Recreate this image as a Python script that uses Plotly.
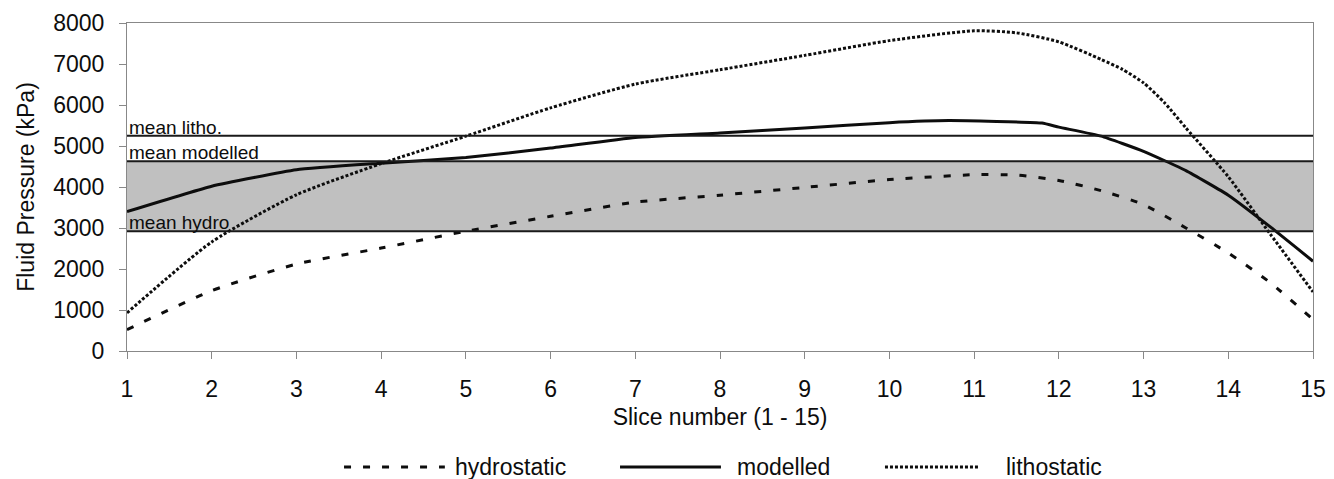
import plotly.graph_objects as go

# ---- data ----
hydro_x = [1, 2, 3, 4, 5, 6, 7, 8, 9, 10, 11, 11.5, 12, 12.5, 13, 13.5, 14, 14.5, 15]
hydro_y = [520, 1470, 2120, 2510, 2920, 3285, 3630, 3800, 3990, 4180, 4300, 4290, 4160, 3910, 3570, 3000, 2390, 1660, 770]

litho_x = [1, 2, 3, 4, 5, 6, 7, 8, 9, 10, 11, 11.5, 12, 12.5, 12.75, 13, 13.25, 13.5, 14, 14.5, 15]
litho_y = [930, 2660, 3810, 4570, 5240, 5930, 6510, 6860, 7210, 7570, 7810, 7760, 7540, 7110, 6870, 6540, 6050, 5440, 4250, 2840, 1440]

model_x = [1, 2, 3, 4, 5, 6, 7, 8, 9, 10, 10.7, 11.8, 12, 12.5, 13, 13.5, 14, 14.5, 15]
model_y = [3400, 4020, 4420, 4580, 4720, 4950, 5210, 5320, 5440, 5570, 5620, 5560, 5460, 5240, 4870, 4400, 3800, 3020, 2190]

mean_litho = 5250
mean_modelled = 4630
mean_hydro = 2920

x_ticks = list(range(1, 16))
y_ticks = list(range(0, 8001, 1000))

series_names = ["hydrostatic", "modelled", "lithostatic"]

FONT = "Liberation Sans, Arial, sans-serif"
INK = "#0d0d0d"
HYDRO_DASH = "7px,12px"
LITHO_DASH = "3px,2px"

fig = go.Figure()

fig.add_trace(go.Scatter(
    x=hydro_x, y=hydro_y, name=series_names[0], mode="lines", showlegend=False,
    line=dict(color=INK, width=3, dash=HYDRO_DASH, shape="spline", smoothing=0.6),
))
fig.add_trace(go.Scatter(
    x=model_x, y=model_y, name=series_names[1], mode="lines", showlegend=False,
    line=dict(color=INK, width=3, shape="spline", smoothing=0.4),
))
fig.add_trace(go.Scatter(
    x=litho_x, y=litho_y, name=series_names[2], mode="lines", showlegend=False,
    line=dict(color=INK, width=3, dash=LITHO_DASH, shape="spline", smoothing=0.6),
))

# grey band between mean hydro and mean modelled
fig.add_shape(type="rect", xref="x", yref="y", x0=1, x1=15, y0=mean_hydro, y1=mean_modelled,
              fillcolor="#c0c0c0", line=dict(width=0), layer="below")
for v in (mean_litho, mean_modelled, mean_hydro):
    fig.add_shape(type="line", xref="x", yref="y", x0=1, x1=15, y0=v, y1=v,
                  line=dict(color="#1a1a1a", width=2))

for txt, v in (("mean litho.", mean_litho), ("mean modelled", mean_modelled), ("mean hydro", mean_hydro)):
    fig.add_annotation(x=1, y=v, xref="x", yref="y", text=txt, showarrow=False,
                       xanchor="left", yanchor="bottom", xshift=0, yshift=-4,
                       font=dict(family=FONT, size=19, color=INK))

# custom legend (long line samples like the reference)
leg_y = -0.354
leg_items = [
    (series_names[0], 0.183, 0.268, 0.2745, dict(color=INK, width=3, dash=HYDRO_DASH)),
    (series_names[1], 0.4157, 0.5008, 0.5125, dict(color=INK, width=3)),
    (series_names[2], 0.6391, 0.7192, 0.7395, dict(color=INK, width=3, dash=LITHO_DASH)),
]
for name, x0, x1, xt, ln in leg_items:
    fig.add_shape(type="line", xref="paper", yref="paper", x0=x0, x1=x1, y0=leg_y, y1=leg_y, line=ln)
    fig.add_annotation(x=xt, y=leg_y, xref="paper", yref="paper", text=name, showarrow=False,
                       xanchor="left", yanchor="middle", font=dict(family=FONT, size=23, color=INK))

fig.update_layout(
    width=1334, height=479,
    margin=dict(l=119, r=29, t=15, b=136),
    paper_bgcolor="white", plot_bgcolor="white",
    font=dict(family=FONT, color=INK),
    showlegend=False,
    xaxis=dict(
        range=[1, 15], tickmode="array", tickvals=x_ticks, ticktext=[str(t) for t in x_ticks],
        showgrid=False, zeroline=False, showline=True, linecolor="#888888", linewidth=1,
        mirror=True, ticks="outside", ticklen=7, tickcolor="#888888", automargin=False,
        ticklabelstandoff=10,
        tickfont=dict(family=FONT, size=23, color=INK),
        title=dict(text="Slice number (1 - 15)", font=dict(family=FONT, size=23, color=INK), standoff=8),
    ),
    yaxis=dict(
        range=[0, 8000], tickmode="array", tickvals=y_ticks, ticktext=[str(t) for t in y_ticks],
        showgrid=False, zeroline=False, showline=True, linecolor="#888888", linewidth=1,
        mirror=True, ticks="outside", ticklen=7, tickcolor="#888888", automargin=False,
        ticklabelstandoff=10,
        tickfont=dict(family=FONT, size=23, color=INK),
        title=dict(text="Fluid Pressure (kPa)", font=dict(family=FONT, size=23, color=INK), standoff=12),
    ),
)

fig.write_html("out.html")
